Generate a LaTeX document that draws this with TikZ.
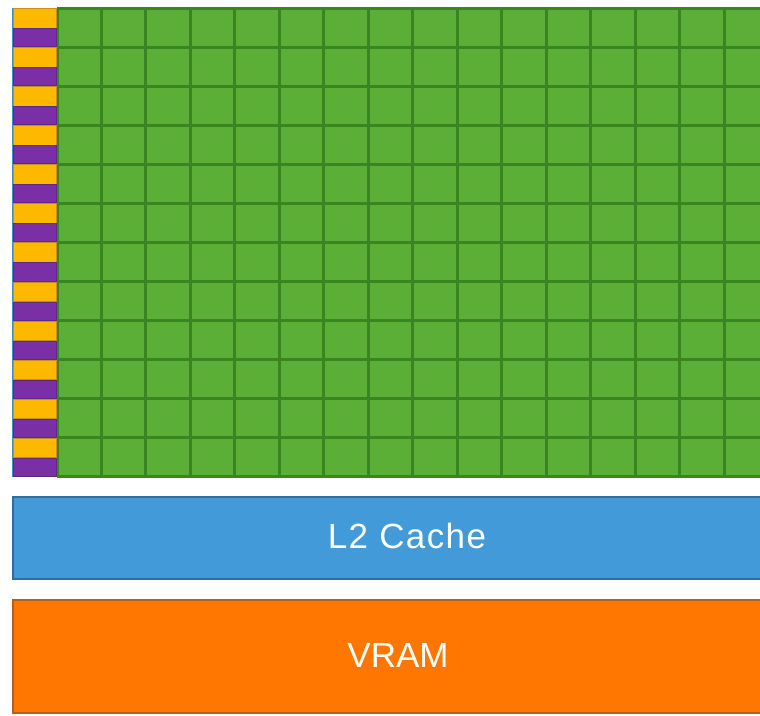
\documentclass[tikz,border=0pt]{standalone}
\usepackage{fontspec}
\setmainfont{Liberation Sans}
\definecolor{cellgreen}{HTML}{5BAF37}
\definecolor{gridgreen}{HTML}{3A8522}
\definecolor{ctlyellow}{HTML}{FFB800}
\definecolor{ctlyellowb}{HTML}{C8901A}
\definecolor{ctlpurple}{HTML}{7A2FA6}
\definecolor{ctlpurpleb}{HTML}{5B2A86}
\definecolor{ctledge}{HTML}{3F8FC8}
\definecolor{cacheblue}{HTML}{429BD8}
\definecolor{cacheblueb}{HTML}{2F6E9F}
\definecolor{vramorange}{HTML}{FF7700}
\definecolor{vramorangeb}{HTML}{B3601E}
\tikzset{
  gridline/.style={gridgreen,line width=3pt},
  ctlyel/.style={fill=ctlyellow,draw=ctlyellowb,line width=1pt},
  ctlpur/.style={fill=ctlpurple,draw=ctlpurpleb,line width=1pt},
  cachebox/.style={fill=cacheblue,draw=cacheblueb,line width=2.5pt},
  vrambox/.style={fill=vramorange,draw=vramorangeb,line width=2.5pt},
  bigtext/.style={text=white,font=\fontsize{35}{40}\selectfont,inner sep=0pt}
}
\begin{document}
\begin{tikzpicture}[x=1pt,y=-1pt]
\useasboundingbox (0,0) rectangle (760,715);
\clip (0,0) rectangle (760,715);
% green core grid
\fill[cellgreen] (57,8) rectangle (800,477);
\foreach \i in {0,...,17} \draw[gridline] ({57+44.47*\i},8) -- ({57+44.47*\i},477);
\foreach \j in {0,...,12} \draw[gridline] (57,{8+39.08*\j}) -- (800,{8+39.08*\j});
% control / cache column
\foreach \j in {0,...,11} {
  \draw[ctlyel] (13,{8.5+39.08*\j}) rectangle (56,{8+39.08*\j+20});
  \draw[ctlpur] (13,{8+39.08*\j+20.5}) rectangle (56,{8+39.08*(\j+1)-0.5});
}
\draw[ctledge,line width=1.5pt] (12.5,8) -- (12.5,477);
% L2 cache and VRAM
\draw[cachebox] (13,497) rectangle (800,579);
\draw[vrambox] (13,600) rectangle (800,713);
\node[bigtext] (l2) at (407,536) {\addfontfeature{LetterSpace=4}L2 Cache};
\node[bigtext] (vram) at (398,655) {VRAM};
\end{tikzpicture}
\end{document}
